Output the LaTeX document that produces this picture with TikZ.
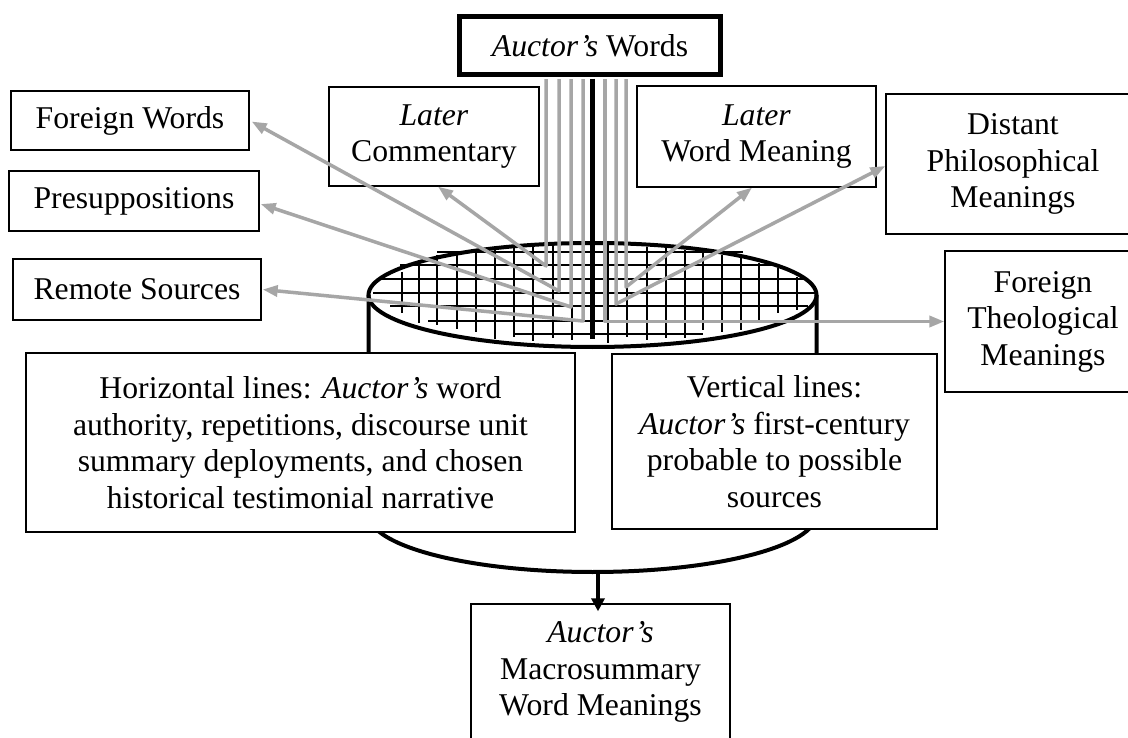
\documentclass[tikz,border=0pt]{standalone}
\usepackage{fontspec}
\setmainfont{Liberation Serif}
\usetikzlibrary{arrows.meta,calc}
\definecolor{linkgray}{RGB}{166,166,166}
\tikzset{
  box/.style={draw=black, line width=1.3pt, fill=white, align=center,
    inner sep=0pt, font=\fontsize{31.7}{36.5}\selectfont},
  gridline/.style={line width=2pt, black},
  rim/.style={line width=4pt, black},
  link/.style={draw=linkgray, line width=3.5pt, line join=round,
    -{Triangle[length=15pt,width=11pt]}},
  spine/.style={line width=5pt, black},
  outlink/.style={line width=4pt, black, -{Triangle[length=13pt,width=13pt]}},
}
\begin{document}
\begin{tikzpicture}[x=1pt,y=-1pt]
\clip (0,0) rectangle (1128,738);
\fill[white] (0,0) rectangle (1128,738);

% lattice on the top face of the drum
\foreach \y/\a/\b in {252.5/437/743, 265/400/777, 279/380/803, 293/373/817,
                      306.5/390/808, 321.5/428/770, 334/513/703}
  \draw[gridline] (\a,\y) -- (\b,\y);
\foreach \x/\a/\b in {402/272/313, 419/265/323, 437/255/325, 457/255/329,
                      476/252/332, 495/250/339, 514/247/337, 533/245/341,
                      553/245/338, 572/243/340, 608/245/343, 627/247/337,
                      647/247/340, 666/248/338, 685/250/338, 703/252/330,
                      722/255/332, 741/258/330, 759/263/323, 778/268/313,
                      797/277/310}
  \draw[gridline] (\x,\a) -- (\x,\b);

% drum: sides, lower rim and top face
\draw[rim] (368.5,295) -- (368.5,514)
  arc[start angle=180, end angle=360, x radius=224pt, y radius=58pt]
  -- (816.5,295);
\draw[rim] (592.5,295) ellipse [x radius=224pt, y radius=52pt];

% boxes
\node[box, line width=4.5pt, minimum width=261pt, minimum height=58pt]
  (aw) at (590,45.5) {\textit{Auctor’s} Words};
\node[box, minimum width=238pt, minimum height=59pt]
  (fw) at (130,120.5) {Foreign Words};
\node[box, minimum width=250pt, minimum height=60pt]
  (pre) at (134,201) {Presuppositions};
\node[box, minimum width=248pt, minimum height=61pt]
  (rs) at (137,289.5) {Remote Sources};
\node[box, minimum width=210pt, minimum height=99pt]
  (lc) at (434,136.5) {\textit{Later}\\Commentary};
\node[box, minimum width=239pt, minimum height=101pt]
  (lwm) at (756.5,136.5) {\textit{Later}\\Word Meaning};
\node[box, minimum width=254pt, minimum height=140pt]
  (dp) at (1013,164) {Distant\\Philosophical\\Meanings};
\node[box, minimum width=196pt, minimum height=141pt]
  (ft) at (1043,321.5) {Foreign\\Theological\\Meanings};
\node[box, minimum width=549pt, minimum height=179pt]
  (hl) at (300.5,442.5) {Horizontal lines: \textit{Auctor’s} word\\
    authority, repetitions, discourse unit\\
    summary deployments, and chosen\\
    historical testimonial narrative};
\node[box, minimum width=325pt, minimum height=175pt]
  (vl) at (774.5,441.5) {Vertical lines:\\
    \textit{Auctor’s} first-century\\
    probable to possible\\
    sources};
\node[box, minimum width=259pt, minimum height=136pt]
  (mac) at (600.5,672) {\textit{Auctor’s}\\Macrosummary\\Word Meanings};

% bends where the strands leave the face
\coordinate (t1) at (546,266);
\coordinate (t2) at (559,291);
\coordinate (t3) at (571,307);
\coordinate (t4) at (583,321);
\coordinate (t5) at (605,321.5);
\coordinate (t6) at (616,304);
\coordinate (t7) at (626,287);
\coordinate (core) at (592,339);
\coordinate (arcb) at (598,572);

% grey strands fanning out to the surrounding boxes
\draw[link] ($(aw.south -| t1)+(0,2.5)$) -- (t1) -- ($(lc.south)+(4,0)$);
\draw[link] ($(aw.south -| t2)+(0,2.5)$) -- (t2) -- ($(fw.east)+(2,1)$);
\draw[link] ($(aw.south -| t3)+(0,2.5)$) -- (t3) -- ($(pre.east)+(1,3)$);
\draw[link] ($(aw.south -| t4)+(0,2.5)$) -- (t4) -- ($(rs.east)+(1,0)$);
\draw[link] ($(aw.south -| t5)+(0,2.5)$) -- (t5) -- (ft.west);
\draw[link] ($(aw.south -| t6)+(0,2.5)$) -- (t6) -- ($(dp.west)+(0,2)$);
\draw[link] ($(aw.south -| t7)+(0,2.5)$) -- (t7) -- ($(lwm.south)+(-4.5,0)$);

% central black strand and the outflow
\draw[spine] ($(aw.south -| core)+(0,2)$) -- (core);
\draw[outlink] (arcb) -- ($(arcb |- mac.north)+(0,8)$);
\end{tikzpicture}
\end{document}
